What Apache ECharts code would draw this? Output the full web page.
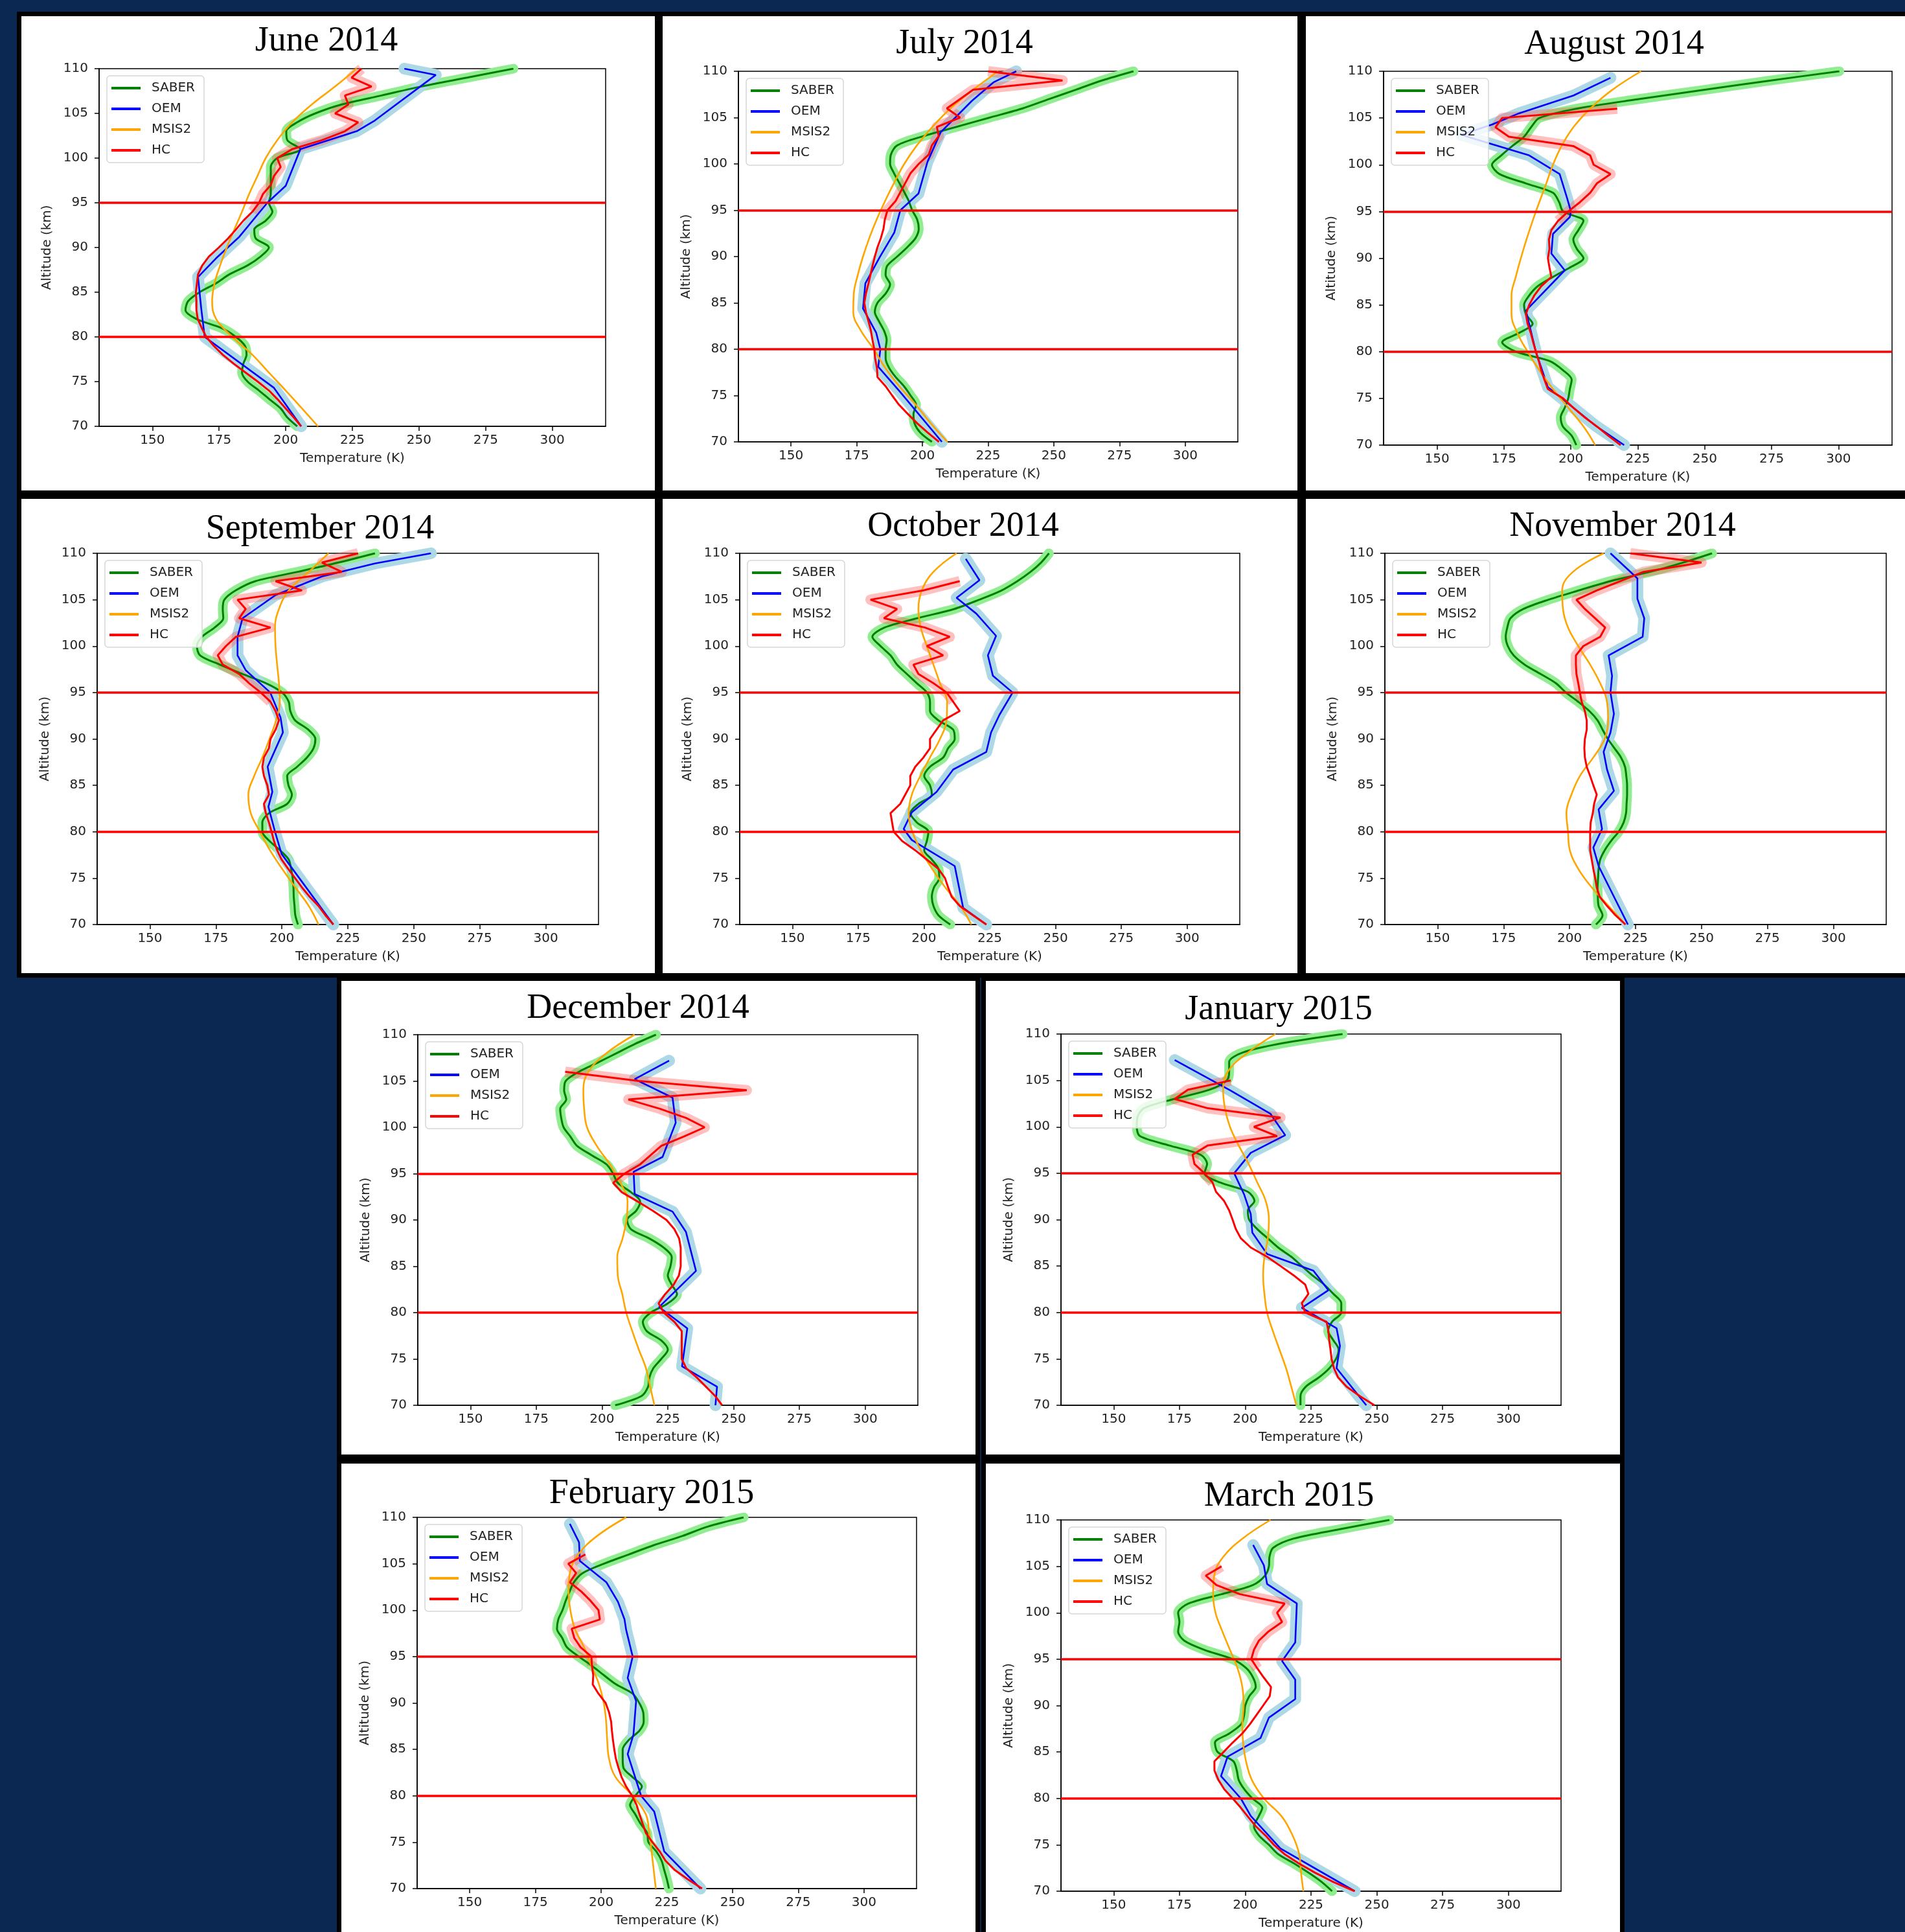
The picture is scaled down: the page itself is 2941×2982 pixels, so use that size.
<!DOCTYPE html>
<html>
<head>
<meta charset="utf-8">
<script src="https://cdn.jsdelivr.net/npm/echarts@6/dist/echarts.min.js"></script>
<style>
  html, body { margin: 0; padding: 0; background: #0a2852; }
  #chart { width: 2941px; height: 2982px; }
</style>
</head>
<body>
<div id="chart"></div>
<script>
// altitude grids (km)
const altitudes = [70,71,72,73,74,75,76,77,78,79,80,81,82,83,84,85,86,87,88,89,90,
                   91,92,93,94,95,96,97,98,99,100,101,102,103,104,105,106,107,108,109,110];
const msisAltitudes = [70,72,74,76,78,80,82,84,86,88,90,92,94,96,98,100,102,104,106,108,110];
const xTicks = [150, 175, 200, 225, 250, 275, 300];
const legendNames = ['SABER', 'OEM', 'MSIS2', 'HC'];
const refLines = [80, 95];

// June 2014
const junSaber = [204.3,200.6,198.1,194,190,185.7,183.6,184.1,185.3,184.7,181.3,175.8,166.5,162.4,163.4,167.7,173.9,178.9,185.7,190.6,193.7,
                  188.8,188.2,192.5,195,193.7,194.4,194.4,194.4,194.4,196.8,205.5,200.6,200.2,204.3,211.1,221,235.9,250.7,268.1,285.4];
const junMsis = [212.1,206.1,200,193.7,187.5,180,173.9,172.4,173.3,175.4,177.9,180.7,183.6,186.3,189.4,192.5,196.8,202.4,209.8,218.5,226.6];
const junOemAlt = [70,74.3,80,83.2,86.7,88.8,91.2,95,96.9,101,103,104.2,109.3,110];
const junOem = [205.8,195.6,169.6,168.3,167.1,173.9,182.6,193.1,200,205.5,226.6,233.4,256.3,244.5];
const junHc = [205.8,203,200,197,193.7,189.5,185,180.5,176.4,173,170.2,168.5,167,166.5,166.5,166.3,166.7,167.1,168.7,171.2,174.9,
               178.3,181.3,184.1,187.5,190,191.5,194.4,195.6,198.1,196.8,202.4,213.6,222.2,227.2,218.5,223.5,222.2,232.2,224.7,228.4];

// July 2014
const julSaber = [203.6,199.2,197,196.6,197.6,195.5,193,189.8,187.3,186,186,186.4,185.4,183.5,181.9,182.9,186,187.7,186,186.6,190.4,
                  194.2,197.4,198.6,198,196.1,194.8,193,191.1,189.2,187.7,188,190.4,200.4,213,225.6,238.2,248.2,258.3,268.3,280.3];
const julMsis = [209.5,203.2,197.5,191.2,185.8,181.5,176.6,173.7,173.9,175.4,177.4,179.8,182.6,185.8,189.3,193.1,197.9,203.8,210.7,219.3,228.8];
const julOemAlt = [70,75.5,78.1,80,81.8,84.4,87.1,89.9,92.6,95,96.8,100.2,103.4,106.8,108.8,110];
const julOem = [207.4,191.2,183.2,184,182.4,177.4,178.3,183.7,189.3,191.6,198.5,201.9,206.9,218.8,227,235.7];
const julHc = [206.3,202,198,194.5,191.1,188.5,186,182.9,182.7,182,181.7,181,180.4,179.5,178.5,177.9,178.5,179.4,180.2,181,181.9,
               182.9,184.2,185.2,185.7,186.7,189.8,191.7,193.6,195.5,198.6,202.4,203.6,206.2,205.5,214.3,209.3,214.3,219.3,253.3,225];

// August 2014
const augSaber = [202,200.3,197,196.2,197.7,199,199.6,200.3,197.1,192,179.4,174.3,180.6,185.7,183.2,182.5,184.4,187.6,193.3,199.6,204.7,
                  202.2,200.9,202.8,204.7,197.1,195.6,193.3,183.2,173.3,170.5,174,178.1,182.5,185.1,188.2,202.2,224.9,249.6,274.3,300.3];
const augMsis = [209.1,204.7,199,193.3,188.2,183.8,180,177.8,177.8,179.4,181.3,183.4,185.7,188.2,190.8,193.3,196.5,200.9,207.2,215.4,226.2];
const augOemAlt = [70,72.1,76.2,80,84.4,88.7,90.5,92.6,94.4,95,96.4,99,101,102.2,103.2,104.3,105.5,107.4,109.3];
const augOem = [219.9,209.1,191.4,186.9,183.2,197.7,192.7,193.3,199.6,200,198.6,195.8,184.4,170.5,159,170.5,180.6,200.9,214.8];
const augHc = [218.6,214,209.7,205,200.9,197.1,191.4,190.1,188.9,188,186.9,185.9,185,183.8,183.2,184.4,186.3,188.9,192.7,192,191.4,
               192,191.8,192.7,195.2,199,203.4,207.2,209.7,214.8,208.5,207.2,200.9,176.8,171.8,174.3,217.3];

// September 2014
const sepSaber = [206.1,205.1,204.8,204.5,204.4,204.1,203.5,202.6,199.3,195.3,192.6,192.6,195.1,202,203.8,202.5,202,205.8,209.5,212,212.7,
                  210,205,203.2,202.6,200.1,194,185,176.5,169,167.8,169.7,174.5,177.8,177.6,178.2,182.5,190,206,221.4,235.3];
const sepMsis = [213.9,210.2,205.1,200.1,195.5,191.7,188.2,187.3,189.5,192.6,195.3,197.8,199.2,198.9,198.2,197.6,197.4,198.9,202.6,210.2,217.7];
const sepOemAlt = [70,77.6,80,82.7,84.3,87,90.7,92.3,95,97.4,99,101,103,105.5,107.5,108.9,110];
const sepOem = [219.5,199.9,197.4,194.9,196.4,194.6,200.4,199.5,195.6,186.3,183.2,183.2,185.1,197.6,215.2,235.2,256.5];
const sepHc = [219.5,216.5,213.9,210.5,207.6,205,202.4,199.9,198.2,197,196.1,195.1,193.9,193.2,195.1,194.5,193.2,192.6,193.2,195.1,195.7,
               197.6,198.9,197.6,195.7,192,187.6,183.8,177.6,175.7,178.8,182.6,195.7,183.8,186.3,183.2,207.6,197.6,222.7,215.2,228.9];

// October 2014
const octSaber = [210,205.5,203.6,203,203.8,205.8,205.5,203,200.1,201.1,201.7,197.3,194.8,197.9,203,202.3,200.1,202.3,207.3,209.2,211.7,
                  211.1,205.5,202.3,202.3,201.1,197.3,193.5,189.8,187.3,183.5,180.4,185,197.5,211.5,221,229.5,235.5,240.5,244.5,247.5];
const octMsis = [218,213.8,208.1,203.1,198.8,195.6,194.2,195.4,198.6,202.3,206.1,208.6,208.8,206.1,203.6,201.1,198.8,197.9,199.2,203.6,212.4];
const octOemAlt = [70,71.8,76.3,79.1,80.3,82.1,84.3,86.7,88.6,90.7,92.6,95,96.8,99,101.1,103.5,105.2,107.1,109.4];
const octOem = [223.7,214.9,211.7,195.4,192.3,195.4,204.8,211.1,223.7,225.5,228.7,233.7,226.2,224.3,227.4,219.9,212.4,221.1,215.9];
const octHc = [223.7,218.6,213.6,210.5,209.2,208,205.5,201.1,196.7,191.7,188.5,187.9,187.3,191,192.9,194.8,194.8,196.7,199.8,202.3,202.3,
               204.8,207.3,213.6,211.1,208.6,203.6,197.9,196,207.3,201.1,209.8,200.4,184.8,189.8,179.7,199.8,213.6];

// November 2014
const novSaber = [210,212.5,211,210.7,210.6,210.8,211,211.6,213.3,215.7,218.6,220.5,221.4,221.6,221.8,221.8,221.5,221,219.5,217,214.5,
                  212.5,210.6,207.5,203.3,198.6,194.8,189,183,178.8,176.6,175.8,176.4,177.6,182.5,192,203.5,215.5,230.5,243,254];
const novMsis = [221.2,214.8,208.4,203.3,200.1,199.4,198.8,200.7,203.9,209,213.3,214.6,214.2,211.6,207.8,203.3,199.4,197.5,197.2,201.3,212.9];
const novOemAlt = [70,76.3,78.3,80.3,82.4,84.4,86.7,88.6,90.7,92.7,95,96.8,99,101,103,105.1,107.3,107.8,110];
const novOem = [222.1,211,209,212.3,211,216.8,214.2,212.9,215.5,216.8,215.5,216.1,214.8,227.7,228.3,225.7,225.7,223.8,215.5];
const novHc = [221.2,217.4,214.2,211.4,210.3,209.7,209,208.4,207.8,207.8,207.8,208,208.8,209.3,210.3,209,207.8,206.5,205.8,205.6,205.8,
               206.5,206.5,205.8,204.6,203.9,203.3,202.6,202.4,202.4,205.2,211.6,213.5,209.7,205.8,202.6,210.3,219.3,228,250,223];

// December 2014
const decSaber = [205,215,217.5,218,219.5,222.5,225,222.5,217,215.5,218.5,225,228.5,226.5,225,226,226.5,223.5,218,211,209.5,
                  213,214.5,211,206,204.2,201.7,196,190.5,188,185.4,184.5,184.1,186.4,185.6,186.2,191.2,198.5,205.5,212.5,220.5];
const decMsis = [219.9,218.3,216.7,214,211.5,209.2,207.7,206,205.8,207.8,209.3,209.7,207,203,198,194.3,193.2,192.9,194.8,201.7,212.4];
const decOemAlt = [70,72,74.2,78.3,80.6,84.5,88.7,90.9,92.8,95.2,96.8,100.5,103.2,105.2,107.2];
const decOem = [243.1,243.7,230.4,232.4,221.7,235.7,231.9,226.8,212.4,212,223,228,226.8,212.4,225.5];
const decHc = [245.6,243,239.5,236,232,230.3,230.3,230.3,230.3,227.5,223.5,221.5,224,227.2,229.2,229.9,229.9,229.9,229.3,227.5,224.5,
               219.3,213.5,207.5,204.2,208.5,214.5,218.5,222.5,231,239,232,222,210,255,214,186];

// January 2015
const janSaber = [221,221,223,228,232,234.5,235.5,233.5,231.5,233,236.5,236.5,233.5,230,225.5,221.5,217.5,212.5,208.5,204.5,201.5,
                  201,203.5,201,190.5,184.5,185.5,183,171,160,158.8,159,161.5,173,186.5,193,193.9,193.9,199,214,237];
const janMsis = [219.4,217.5,215.5,213,210.5,208.3,207.3,206.8,207.3,208.6,209,207.8,204.6,201.3,197.5,194.2,192.3,191.6,193.5,201,211.5];
const janOemAlt = [70,74,76.4,78.3,80.5,82.4,84.5,86.3,88.6,90.6,92.7,95,97.2,99.1,101.4,103.9,107.2];
const janOem = [246,234.7,236,234.7,221.5,231.6,225.9,208.3,202.7,202.1,199.6,195.8,202.1,215.2,209.6,194.5,173.2];
const janHc = [249.1,243.5,238.5,235.3,233.7,232.8,232.4,231.9,231.6,230.9,222.8,221.5,224,222.8,218.4,213.4,208.3,202.1,198.3,196.4,195.2,
               193.9,192,188.9,187.6,184.5,180.7,180,185.8,212.1,203.3,213.4,185.8,173.2,178.2,194.5];

// February 2015
const febSaber = [225.8,225,224,223,221,218,217.5,215,213,211,213,215.5,212,208.5,208.2,208.2,210.5,214.5,216.2,216,214.5,
                  212,205.7,201,196.5,191.5,187,185.2,183.2,183.7,185.3,186.5,188,189.6,193,201,210.5,220,231,240.5,254.2];
const febMsis = [220.8,220,219.2,218.3,217,212,205.5,203,202.3,201.9,201,199.2,196.3,193.5,190,188.3,187.6,188.1,191.3,198.5,209.5];
const febOemAlt = [70,74,78.3,80,84.5,86.6,90.2,92.7,95,97.9,99,100.9,103,105.3,107.3,109.3];
const febOem = [237.8,224,220.2,215.2,210.1,212.3,213.3,210.1,212,209.5,208.9,206.4,202,191.9,191.6,188.1];
const febHc = [238.4,233,228,224.5,222.3,219.5,217,215.8,214.6,213.5,211.8,209.5,207.8,206.6,205.6,205,204.5,204.1,203.8,203,201.7,
               199,196.8,197,196.5,196.3,192.2,189.8,188.8,199.5,199,196,192.5,188.1,190.5,187.5,194];

// March 2015
const marSaber = [233,229,224,218.5,212.5,209,205.2,203.3,205,206.5,202.7,199.6,197.5,196.8,195.5,189.5,188.5,194,198.5,199.6,200,
                  201.5,204,203,200.5,195.2,184.5,176.8,174.5,175,174.5,178.5,191,203,207.5,209,209.2,210.6,218.5,236,254.8];
const marMsis = [222.1,221.2,220.5,218,214,207.1,202.5,200.3,199.2,198.9,199.4,198.9,197.1,194.2,191.3,188.7,187.8,188.2,191.6,199,209.6];
const marOemAlt = [70,74.6,78.1,80,82.4,84.5,86.5,88.7,90.7,92.8,94.8,96.8,101,103.1,105.1,107.3];
const marOem = [241.6,213.4,202.1,198.3,190.8,193.3,205.8,209,219,219,214,219,219.6,208.3,207.1,203];
const marHc = [241.6,233.4,226.5,220.3,214.9,210.9,207.7,204,201.1,198.3,195.2,192,189.8,188.3,188.3,191.8,195.2,198.9,201.8,204.3,206.8,
               209.3,209.8,207.1,204.6,202.3,203.3,205.2,208.9,214,212.1,215,198,189,185,191];

const panels = [
  { title: 'June 2014',      saber: junSaber, msis: junMsis, oemAlt: junOemAlt, oem: junOem, hc: junHc },
  { title: 'July 2014',      saber: julSaber, msis: julMsis, oemAlt: julOemAlt, oem: julOem, hc: julHc },
  { title: 'August 2014',    saber: augSaber, msis: augMsis, oemAlt: augOemAlt, oem: augOem, hc: augHc },
  { title: 'September 2014', saber: sepSaber, msis: sepMsis, oemAlt: sepOemAlt, oem: sepOem, hc: sepHc },
  { title: 'October 2014',   saber: octSaber, msis: octMsis, oemAlt: octOemAlt, oem: octOem, hc: octHc },
  { title: 'November 2014',  saber: novSaber, msis: novMsis, oemAlt: novOemAlt, oem: novOem, hc: novHc },
  { title: 'December 2014',  saber: decSaber, msis: decMsis, oemAlt: decOemAlt, oem: decOem, hc: decHc },
  { title: 'January 2015',   saber: janSaber, msis: janMsis, oemAlt: janOemAlt, oem: janOem, hc: janHc },
  { title: 'February 2015',  saber: febSaber, msis: febMsis, oemAlt: febOemAlt, oem: febOem, hc: febHc },
  { title: 'March 2015',     saber: marSaber, msis: marMsis, oemAlt: marOemAlt, oem: marOem, hc: marHc }
];

// page layout in pixels: white panel box, plot area [left, top, right, bottom], title centre
const layout = [
  { box: [33, 25, 1011, 757],     plot: [153, 106, 935, 658],    title: [504, 64] },
  { box: [1023, 25, 2003, 757],   plot: [1140, 110, 1911, 682],  title: [1489, 68] },
  { box: [2016, 25, 2970, 757],   plot: [2136, 110, 2921, 687],  title: [2492, 69] },
  { box: [33, 770, 1011, 1502],   plot: [150, 854, 924, 1427],   title: [494, 817] },
  { box: [1023, 770, 2003, 1502], plot: [1142, 854, 1914, 1427], title: [1487, 813] },
  { box: [2016, 770, 2970, 1502], plot: [2138, 854, 2912, 1427], title: [2505, 813] },
  { box: [527, 1514, 1506, 2245], plot: [645, 1597, 1417, 2169], title: [985, 1557] },
  { box: [1522, 1514, 2501, 2245], plot: [1638, 1596, 2410, 2169], title: [1974, 1559] },
  { box: [527, 2259, 1506, 3000], plot: [644, 2342, 1415, 2915], title: [1006, 2306] },
  { box: [1522, 2259, 2501, 3000], plot: [1638, 2346, 2410, 2919], title: [1990, 2310] }
];

const colors = { saber: '#008000', oem: '#0000ff', msis: '#ffa500', hc: '#ff0000' };
const bandColors = { saber: '#90ee90', oem: '#add8e6', hc: 'rgba(255,90,90,0.38)' };
const tickFont = 'DejaVu Sans';

const chart = echarts.init(document.getElementById('chart'));
const option = {
  backgroundColor: '#0a2852',
  animation: false,
  graphic: { elements: [] },
  grid: [], xAxis: [], yAxis: [], legend: [], series: []
};

panels.forEach((p, i) => {
  const L = layout[i];
  const [bx0, by0, bx1, by1] = L.box;
  const [pl, pt, pr, pb] = L.plot;

  // black frame + white panel + title
  option.graphic.elements.push(
    { type: 'rect', z: -20, shape: { x: bx0 - 7, y: by0 - 7, width: bx1 - bx0 + 14, height: by1 - by0 + 14 }, style: { fill: '#000' } },
    { type: 'rect', z: -19, shape: { x: bx0, y: by0, width: bx1 - bx0, height: by1 - by0 }, style: { fill: '#fff' } },
    { type: 'text', z: 50, x: L.title[0], y: L.title[1],
      style: { text: p.title, fill: '#000', font: '54px "Liberation Serif"', textAlign: 'center', textVerticalAlign: 'middle' } }
  );

  option.grid.push({
    left: pl, top: pt, width: pr - pl, height: pb - pt,
    show: true, backgroundColor: '#fff', borderColor: '#000', borderWidth: 1.5
  });
  option.xAxis.push({
    type: 'value', gridIndex: i, min: 130, max: 320,
    name: 'Temperature (K)', nameLocation: 'middle', nameGap: 40,
    nameTextStyle: { fontSize: 20, color: '#222', fontFamily: tickFont },
    axisLine: { show: true, lineStyle: { color: '#000', width: 1.5 } },
    axisTick: { show: true, length: 7, customValues: xTicks, lineStyle: { color: '#000', width: 1.5 } },
    axisLabel: { customValues: xTicks, fontSize: 20, color: '#222', fontFamily: tickFont, margin: 12 },
    splitLine: { show: false }
  });
  option.yAxis.push({
    type: 'value', gridIndex: i, min: 70, max: 110, interval: 5,
    name: 'Altitude (km)', nameLocation: 'middle', nameGap: 70,
    nameTextStyle: { fontSize: 20, color: '#222', fontFamily: tickFont },
    axisLine: { show: true, lineStyle: { color: '#000', width: 1.5 } },
    axisTick: { show: true, length: 7, lineStyle: { color: '#000', width: 1.5 } },
    axisLabel: { fontSize: 20, color: '#222', fontFamily: tickFont, margin: 17 },
    splitLine: { show: false }
  });
  option.legend.push({
    data: legendNames, orient: 'vertical', left: pl + 12, top: pt + 11, z: 20,
    icon: 'rect', itemWidth: 45, itemHeight: 4, itemGap: 12,
    backgroundColor: 'rgba(255,255,255,0.82)', borderColor: '#d6d6d6', borderWidth: 1.5, borderRadius: 5,
    padding: [9, 14, 9, 7],
    textStyle: { fontSize: 20, color: '#222', fontFamily: tickFont, padding: [0, 0, 0, 12] }
  });

  const saberPts = p.saber.map((t, j) => [t, altitudes[j]]);
  const msisPts = p.msis.map((t, j) => [t, msisAltitudes[j]]);
  const oemPts = p.oem.map((t, j) => [t, p.oemAlt[j]]);
  const hcPts = p.hc.map((t, j) => [t, altitudes[j]]);
  const base = { type: 'line', xAxisIndex: i, yAxisIndex: i, symbol: 'none', silent: true };

  // uncertainty bands (drawn first)
  option.series.push(
    Object.assign({}, base, { data: saberPts, smooth: 0.3, lineStyle: { color: bandColors.saber, width: 15, cap: 'round', join: 'round' }, z: 2 }),
    Object.assign({}, base, { data: oemPts, lineStyle: { color: bandColors.oem, width: 18, cap: 'round', join: 'round' }, z: 2 }),
    Object.assign({}, base, { data: hcPts.filter(d => d[1] >= 94), lineStyle: { color: bandColors.hc, width: 16, join: 'round' }, z: 2 })
  );
  // profiles
  option.series.push(
    Object.assign({}, base, { name: 'SABER', data: saberPts, smooth: 0.3, color: colors.saber, lineStyle: { color: colors.saber, width: 3 }, z: 3 }),
    Object.assign({}, base, { name: 'OEM', data: oemPts, color: colors.oem, lineStyle: { color: colors.oem, width: 2.6 }, z: 3 }),
    Object.assign({}, base, { name: 'MSIS2', data: msisPts, smooth: 0.4, color: colors.msis, lineStyle: { color: colors.msis, width: 2.6 }, z: 3 }),
    Object.assign({}, base, {
      name: 'HC', data: hcPts, color: colors.hc, lineStyle: { color: colors.hc, width: 3 }, z: 4,
      markLine: {
        silent: true, symbol: ['none', 'none'], label: { show: false },
        lineStyle: { color: '#ff0000', width: 3.5, type: 'solid' },
        data: refLines.map(a => ({ yAxis: a }))
      }
    })
  );
});

chart.setOption(option);
</script>
</body>
</html>
